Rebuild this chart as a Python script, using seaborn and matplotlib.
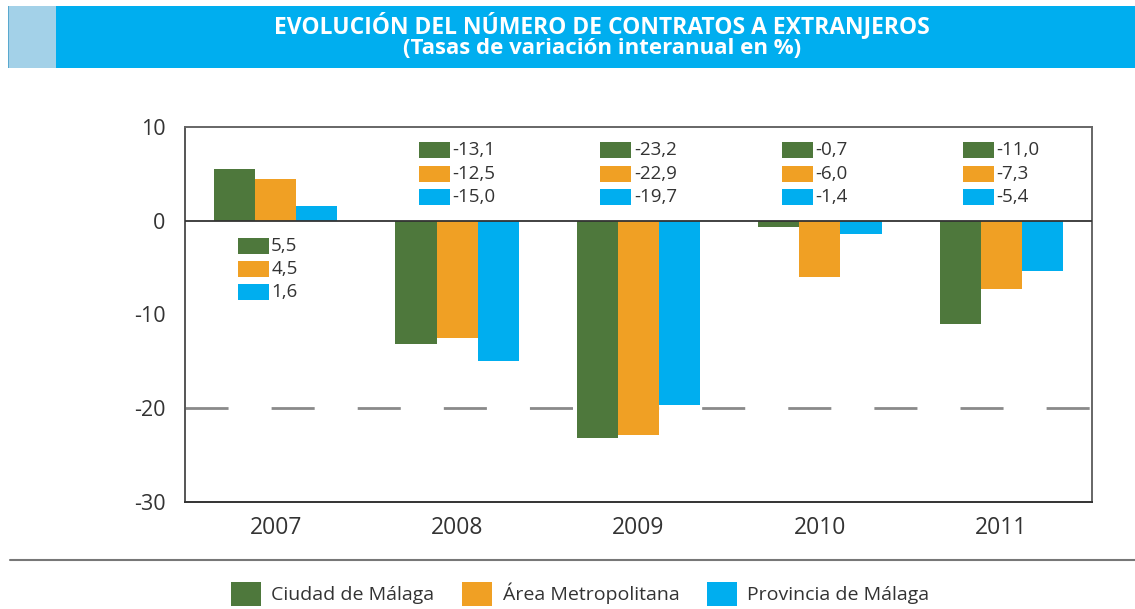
import numpy as np
import pandas as pd
import seaborn as sns
import matplotlib.pyplot as plt
from matplotlib.patches import Rectangle

years = ["2007", "2008", "2009", "2010", "2011"]
series = ["Ciudad de Málaga", "Área Metropolitana", "Provincia de Málaga"]
ciudad = [5.5, -13.1, -23.2, -0.7, -11.0]
area = [4.5, -12.5, -22.9, -6.0, -7.3]
provincia = [1.6, -15.0, -19.7, -1.4, -5.4]
colors = ["#4E783C", "#F0A024", "#00AEEF"]


def fmt(v):
    return f"{v:.1f}".replace(".", ",")


def main():
    df = pd.DataFrame({
        "year": years * 3,
        "serie": [s for s in series for _ in years],
        "val": ciudad + area + provincia,
    })

    sns.set_style("white")
    plt.rcParams["font.family"] = ["Open Sans", "DejaVu Sans"]

    fig = plt.figure(figsize=(11.35, 6.09), dpi=100)
    ax = fig.add_axes([185 / 1135, 1 - 502 / 609, 907 / 1135, 375 / 609])

    sns.barplot(data=df, x="year", y="val", hue="serie", hue_order=series,
                palette=colors, width=0.68, gap=0, saturation=1,
                edgecolor="none", ax=ax, legend=True)
    handles, labels = ax.get_legend_handles_labels()
    ax.get_legend().remove()

    ax.set_ylim(-30, 10)
    ax.set_xlim(-0.5, 4.5)
    ax.set_yticks([10, 0, -10, -20, -30])
    ax.set_yticklabels(["10", "0", "-10", "-20", "-30"])
    ax.set_xlabel("")
    ax.set_ylabel("")
    ax.tick_params(axis="y", length=8, width=2, color="#222222",
                   labelsize=15.5, labelcolor="#333333", pad=6)
    ax.tick_params(axis="x", length=0, labelsize=16.5,
                   labelcolor="#333333", pad=10)
    ax.axhline(0, color="#333333", lw=1.3, zorder=3)
    ax.axhline(-20, color="#8a8a8a", lw=2, dashes=(15.5, 15.5), zorder=0)
    for side, c in [("left", "#555555"), ("bottom", "#333333"),
                    ("top", "#666666"), ("right", "#666666")]:
        ax.spines[side].set_color(c)
        ax.spines[side].set_linewidth(1.4)

    # value boxes per year
    sq_w, sq_h = 31 / 181.4, 16 / 9.35
    for i, vals in enumerate(zip(ciudad, area, provincia)):
        x0 = i - 0.21
        y_top = -2.65 if i == 0 else 7.5
        for k, v in enumerate(vals):
            yc = y_top - 2.5 * k
            ax.add_patch(Rectangle((x0, yc - sq_h / 2), sq_w, sq_h,
                                   facecolor=colors[k], edgecolor="none"))
            ax.text(x0 + sq_w + 0.014, yc, fmt(v), va="center", ha="left",
                    fontsize=13.5, color="#333333")

    # header band
    fig.patches.append(Rectangle((8 / 1135, 1 - 68 / 609), 1.5 / 1135, 62 / 609,
                                 transform=fig.transFigure,
                                 facecolor="#5AA9CF", edgecolor="none"))
    fig.patches.append(Rectangle((9 / 1135, 1 - 68 / 609), 47 / 1135, 62 / 609,
                                 transform=fig.transFigure,
                                 facecolor="#A3D1E8", edgecolor="none"))
    fig.patches.append(Rectangle((56 / 1135, 1 - 68 / 609), 1079 / 1135, 62 / 609,
                                 transform=fig.transFigure,
                                 facecolor="#00AEEF", edgecolor="none"))
    fig.text(602 / 1135, 1 - 26 / 609, "EVOLUCIÓN DEL NÚMERO DE CONTRATOS A EXTRANJEROS",
             ha="center", va="center", color="white", fontsize=16.5, fontweight="bold")
    fig.text(602 / 1135, 1 - 48 / 609, "(Tasas de variación interanual en %)",
             ha="center", va="center", color="white", fontsize=16, fontweight="bold")

    # separator line and legend
    fig.add_artist(plt.Line2D([10 / 1135, 1], [1 - 560 / 609, 1 - 560 / 609],
                              transform=fig.transFigure, color="#777777", lw=1.5))
    fig.legend(handles, labels, loc="upper center", ncol=3, frameon=False,
               bbox_to_anchor=(580 / 1135, 1 - 574 / 609), fontsize=14,
               handlelength=1.55, handleheight=1.5, handletextpad=0.55,
               columnspacing=1.4, labelcolor="#333333", borderaxespad=0)

    fig.savefig("out.png", dpi=100)


if __name__ == "__main__":
    main()
